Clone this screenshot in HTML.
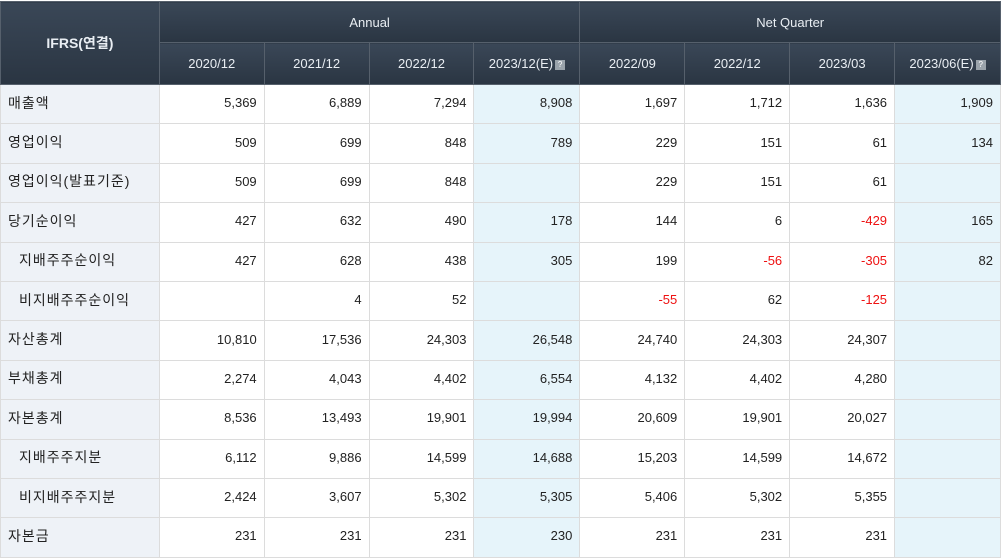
<!DOCTYPE html>
<html><head><meta charset="utf-8">
<style>
html,body{margin:0;padding:0;background:#fff;width:1001px;height:552px;overflow:hidden}
table{border-collapse:collapse;table-layout:fixed;position:absolute;left:0;top:1px;font-family:"Liberation Sans","Noto Sans CJK KR",sans-serif}
th{background:linear-gradient(#3a4757,#2a3542);color:#e9eef3;font-weight:normal;font-size:13px;border:1px solid #56606c;padding:0}
th.corner{font-weight:bold;font-size:14px}
td{border:1px solid #dcdcdc;font-size:13px;color:#222;text-align:right;padding:0 7px 3px 0;height:35.4px}
td.lab{background:#eef2f7;text-align:left;padding-left:7px;font-size:14px;letter-spacing:1px}
td.ind{padding-left:18px}
td.est{background:#e6f4fa}
.neg{color:#ee1111}
.q{display:inline-block;width:10px;height:10px;background:#9aa3ab;color:#fff;font-size:8px;line-height:10px;text-align:center;vertical-align:1px;margin-left:2px}
</style></head><body>
<table>
<colgroup><col style="width:159px"><col style="width:105px"><col style="width:105px"><col style="width:105px"><col style="width:106px"><col style="width:105px"><col style="width:105px"><col style="width:105px"><col style="width:106px"></colgroup>
<thead>
<tr style="height:41px"><th class="corner" rowspan="2">IFRS(연결)</th><th colspan="4">Annual</th><th colspan="4">Net Quarter</th></tr>
<tr style="height:42px">
<th>2020/12</th><th>2021/12</th><th>2022/12</th><th>2023/12(E)<span class="q">?</span></th>
<th>2022/09</th><th>2022/12</th><th>2023/03</th><th>2023/06(E)<span class="q">?</span></th></tr>
</thead>
<tbody>
<tr><td class="lab">매출액</td><td>5,369</td><td>6,889</td><td>7,294</td><td class="est">8,908</td><td>1,697</td><td>1,712</td><td>1,636</td><td class="est">1,909</td></tr>
<tr><td class="lab">영업이익</td><td>509</td><td>699</td><td>848</td><td class="est">789</td><td>229</td><td>151</td><td>61</td><td class="est">134</td></tr>
<tr><td class="lab">영업이익(발표기준)</td><td>509</td><td>699</td><td>848</td><td class="est"></td><td>229</td><td>151</td><td>61</td><td class="est"></td></tr>
<tr><td class="lab">당기순이익</td><td>427</td><td>632</td><td>490</td><td class="est">178</td><td>144</td><td>6</td><td class="neg">-429</td><td class="est">165</td></tr>
<tr><td class="lab ind">지배주주순이익</td><td>427</td><td>628</td><td>438</td><td class="est">305</td><td>199</td><td class="neg">-56</td><td class="neg">-305</td><td class="est">82</td></tr>
<tr><td class="lab ind">비지배주주순이익</td><td></td><td>4</td><td>52</td><td class="est"></td><td class="neg">-55</td><td>62</td><td class="neg">-125</td><td class="est"></td></tr>
<tr><td class="lab">자산총계</td><td>10,810</td><td>17,536</td><td>24,303</td><td class="est">26,548</td><td>24,740</td><td>24,303</td><td>24,307</td><td class="est"></td></tr>
<tr><td class="lab">부채총계</td><td>2,274</td><td>4,043</td><td>4,402</td><td class="est">6,554</td><td>4,132</td><td>4,402</td><td>4,280</td><td class="est"></td></tr>
<tr><td class="lab">자본총계</td><td>8,536</td><td>13,493</td><td>19,901</td><td class="est">19,994</td><td>20,609</td><td>19,901</td><td>20,027</td><td class="est"></td></tr>
<tr><td class="lab ind">지배주주지분</td><td>6,112</td><td>9,886</td><td>14,599</td><td class="est">14,688</td><td>15,203</td><td>14,599</td><td>14,672</td><td class="est"></td></tr>
<tr><td class="lab ind">비지배주주지분</td><td>2,424</td><td>3,607</td><td>5,302</td><td class="est">5,305</td><td>5,406</td><td>5,302</td><td>5,355</td><td class="est"></td></tr>
<tr><td class="lab">자본금</td><td>231</td><td>231</td><td>231</td><td class="est">230</td><td>231</td><td>231</td><td>231</td><td class="est"></td></tr>
</tbody>
</table>
</body></html>
